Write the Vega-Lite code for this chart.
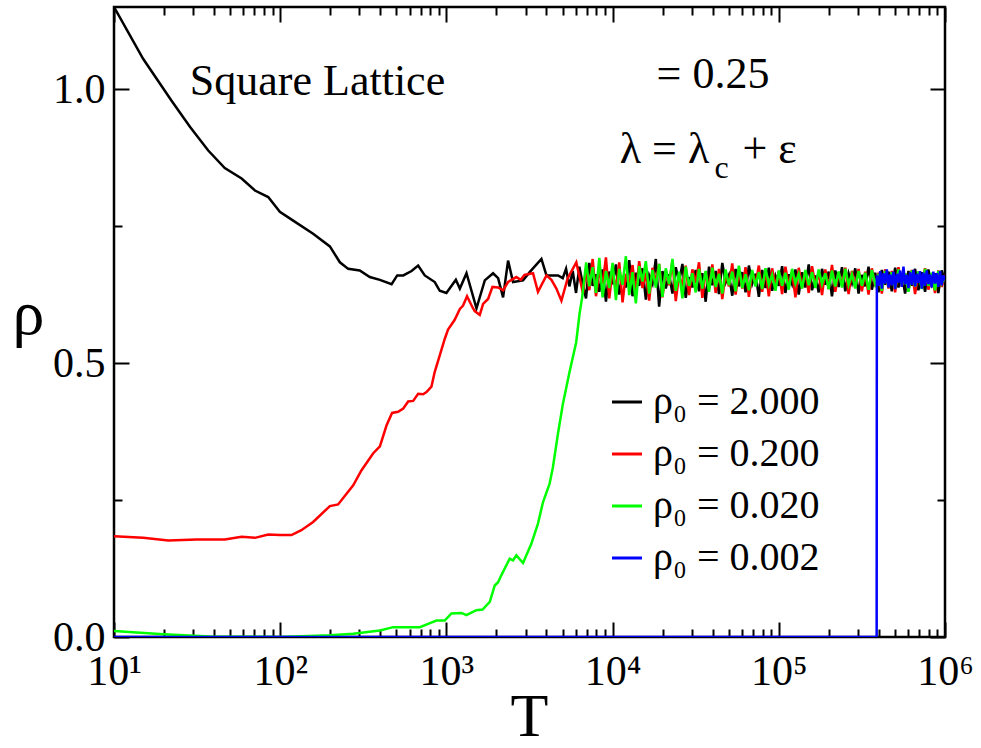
{
  "$schema": "https://vega.github.io/schema/vega-lite/v6.json",
  "width": 831,
  "height": 630,
  "autosize": {"type": "none"},
  "padding": {"left": 114, "top": 7, "right": 36, "bottom": 111},
  "background": "white",
  "config": {
    "font": "Liberation Serif",
    "view": {"stroke": "black", "strokeWidth": 2.5},
    "axis": {
      "domain": false, "grid": false,
      "tickColor": "black", "tickWidth": 2,
      "labelColor": "black", "labelFont": "Liberation Serif", "labelFontSize": 42,
      "titleFont": "Liberation Serif", "titleFontWeight": "normal", "titleColor": "black",
      "labelOverlap": false, "labelFlush": false, "labelBound": false
    }
  },
  "datasets": {
    "rho": [
      {"T":10,"a":1.15,"b":0.184,"c":0.011,"d":0},
      {"T":15,"a":1.055,"b":0.181},
      {"T":19.8,"c":0.005},
      {"T":21.2,"b":0.176},
      {"T":22.2,"a":0.979},
      {"T":28.7,"a":0.931},
      {"T":31.4,"b":0.178},
      {"T":36.9,"a":0.888},
      {"T":37.8,"c":0.001},
      {"T":46.4,"a":0.856,"b":0.178},
      {"T":58.6,"a":0.837,"b":0.183},
      {"T":70.5,"a":0.815,"b":0.181},
      {"T":84.7,"a":0.803,"b":0.187},
      {"T":99.5,"a":0.776,"b":0.186},
      {"T":100,"c":0},
      {"T":117,"b":0.186},
      {"T":119.7,"a":0.76},
      {"T":134,"b":0.195},
      {"T":157.8,"a":0.736,"b":0.21},
      {"T":199,"a":0.713,"b":0.239,"c":0.003},
      {"T":223,"b":0.242},
      {"T":228.6,"a":0.684},
      {"T":256.5,"a":0.672},
      {"T":275,"b":0.277,"c":0.006},
      {"T":301,"a":0.669},
      {"T":308,"b":0.304},
      {"T":346,"a":0.657},
      {"T":362,"b":0.335},
      {"T":398,"a":0.652,"b":0.348,"c":0.012},
      {"T":436,"b":0.386},
      {"T":468,"a":0.644},
      {"T":471,"b":0.409},
      {"T":479,"c":0.018},
      {"T":506,"a":0.66},
      {"T":512,"b":0.411},
      {"T":550,"a":0.66,"b":0.417},
      {"T":589,"b":0.43},
      {"T":617,"a":0.668},
      {"T":631,"b":0.431},
      {"T":676,"a":0.678,"b":0.444},
      {"T":692,"c":0.018},
      {"T":724,"b":0.443},
      {"T":741,"a":0.66},
      {"T":759,"b":0.447},
      {"T":776,"c":0.024},
      {"T":813,"b":0.457},
      {"T":851,"a":0.648,"b":0.484},
      {"T":871,"c":0.03},
      {"T":912,"a":0.632,"b":0.514},
      {"T":977,"b":0.544,"c":0.03},
      {"T":1000,"a":0.628},
      {"T":1023,"b":0.561},
      {"T":1072,"c":0.043},
      {"T":1122,"b":0.579},
      {"T":1140,"a":0.652},
      {"T":1205,"a":0.636,"b":0.599},
      {"T":1233,"c":0.044},
      {"T":1260,"b":0.605},
      {"T":1320,"c":0.04},
      {"T":1321,"a":0.664},
      {"T":1331,"b":0.622},
      {"T":1434,"b":0.602},
      {"T":1481,"b":0.595},
      {"T":1514,"c":0.049},
      {"T":1517,"a":0.6},
      {"T":1588,"b":0.588},
      {"T":1650,"c":0.05},
      {"T":1663,"b":0.608},
      {"T":1702,"a":0.651},
      {"T":1782,"b":0.617},
      {"T":1824,"c":0.064},
      {"T":1893,"b":0.639},
      {"T":1909,"a":0.664},
      {"T":1954,"c":0.094},
      {"T":2047,"a":0.655,"b":0.638,"c":0.1},
      {"T":2143,"c":0.113},
      {"T":2193,"a":0.62,"b":0.633},
      {"T":2350,"a":0.687,"b":0.648},
      {"T":2404,"c":0.143},
      {"T":2518,"a":0.648,"c":0.14},
      {"T":2636,"b":0.657,"c":0.149},
      {"T":2800,"b":0.652},
      {"T":2891,"a":0.651,"c":0.135},
      {"T":2950,"b":0.661},
      {"T":3170,"a":0.666},
      {"T":3243,"c":0.17},
      {"T":3319,"b":0.664},
      {"T":3556,"b":0.63,"c":0.207},
      {"T":3730,"a":0.69},
      {"T":3811,"c":0.246},
      {"T":4000,"a":0.66,"b":0.66},
      {"T":4178,"c":0.28},
      {"T":4285,"b":0.652},
      {"T":4375,"c":0.31},
      {"T":4590,"b":0.636},
      {"T":4690,"c":0.371},
      {"T":4700,"a":0.66},
      {"T":4920,"b":0.614},
      {"T":5012,"a":0.655},
      {"T":5025,"c":0.426},
      {"T":5248,"a":0.672},
      {"T":5370,"b":0.655},
      {"T":5495,"a":0.64},
      {"T":5510,"c":0.484},
      {"T":5754,"a":0.668},
      {"T":6026,"a":0.628},
      {"T":6040,"c":0.538},
      {"T":6050,"b":0.684},
      {"T":6310,"a":0.676},
      {"T":6325,"c":0.59},
      {"T":6560,"c":0.62},
      {"T":6607,"a":0.645},
      {"T":6640,"b":0.627},
      {"T":6918,"a":0.618,"b":0.672},
      {"T":6935,"c":0.684},
      {"T":7244,"a":0.683,"b":0.633,"c":0.64},
      {"T":7586,"a":0.641,"b":0.69,"c":0.675},
      {"T":7943,"a":0.662,"b":0.622,"c":0.628},
      {"T":8318,"a":0.63,"b":0.668,"c":0.692},
      {"T":8710,"a":0.671,"b":0.645,"c":0.62},
      {"T":9120,"a":0.612,"b":0.693,"c":0.668},
      {"T":9550,"a":0.667,"b":0.618,"c":0.637},
      {"T":10000,"a":0.644,"b":0.671,"c":0.683},
      {"T":10470,"a":0.68,"b":0.632,"c":0.615},
      {"T":10960,"a":0.625,"b":0.684,"c":0.672},
      {"T":11480,"a":0.659,"b":0.611,"c":0.643},
      {"T":12020,"a":0.638,"b":0.663,"c":0.695},
      {"T":12590,"a":0.688,"b":0.64,"c":0.624},
      {"T":13180,"a":0.622,"b":0.679,"c":0.666},
      {"T":13800,"a":0.665,"b":0.626,"c":0.609},
      {"T":14450,"a":0.641,"b":0.686,"c":0.677},
      {"T":15140,"a":0.673,"b":0.637,"c":0.649},
      {"T":15850,"a":0.616,"b":0.665,"c":0.686},
      {"T":16600,"a":0.66,"b":0.614,"c":0.627},
      {"T":17380,"a":0.645,"b":0.674,"c":0.67},
      {"T":18200,"a":0.69,"b":0.648,"c":0.638},
      {"T":19050,"a":0.603,"b":0.681,"c":0.681},
      {"T":19950,"a":0.668,"b":0.62,"c":0.621},
      {"T":20890,"a":0.636,"b":0.669,"c":0.673},
      {"T":21880,"a":0.662,"b":0.642,"c":0.644},
      {"T":22910,"a":0.627,"b":0.687,"c":0.69},
      {"T":23990,"a":0.675,"b":0.613,"c":0.632},
      {"T":25120,"a":0.648,"b":0.662,"c":0.667},
      {"T":26300,"a":0.681,"b":0.639,"c":0.618},
      {"T":27540,"a":0.619,"b":0.678,"c":0.676},
      {"T":28840,"a":0.657,"b":0.624,"c":0.641},
      {"T":30200,"a":0.638,"b":0.671,"c":0.664},
      {"T":31620,"a":0.67,"b":0.646,"c":0.629},
      {"T":33110,"a":0.631,"b":0.684,"c":0.672},
      {"T":34670,"a":0.664,"b":0.619,"c":0.636},
      {"T":36310,"a":0.612,"b":0.667,"c":0.668},
      {"T":38020,"a":0.676,"b":0.634,"c":0.63},
      {"T":39810,"a":0.642,"b":0.68,"c":0.674},
      {"T":41690,"a":0.668,"b":0.628,"c":0.639},
      {"T":43650,"a":0.626,"b":0.672,"c":0.663},
      {"T":45710,"a":0.683,"b":0.617,"c":0.627},
      {"T":47860,"a":0.647,"b":0.664,"c":0.671},
      {"T":50120,"a":0.661,"b":0.64,"c":0.642},
      {"T":52480,"a":0.623,"b":0.682,"c":0.667},
      {"T":54950,"a":0.672,"b":0.625,"c":0.631},
      {"T":57540,"a":0.64,"b":0.669,"c":0.678},
      {"T":60260,"a":0.666,"b":0.636,"c":0.637},
      {"T":63100,"a":0.629,"b":0.675,"c":0.662},
      {"T":66070,"a":0.678,"b":0.621,"c":0.633},
      {"T":69180,"a":0.645,"b":0.666,"c":0.67},
      {"T":72440,"a":0.663,"b":0.644,"c":0.64},
      {"T":75860,"a":0.621,"b":0.678,"c":0.666},
      {"T":79430,"a":0.67,"b":0.63,"c":0.635},
      {"T":83180,"a":0.637,"b":0.67,"c":0.673},
      {"T":87100,"a":0.674,"b":0.622,"c":0.643},
      {"T":91200,"a":0.632,"b":0.673,"c":0.661},
      {"T":95500,"a":0.659,"b":0.639,"c":0.632},
      {"T":100000,"a":0.641,"b":0.668,"c":0.669},
      {"T":104700,"a":0.677,"b":0.626,"c":0.641},
      {"T":109600,"a":0.628,"b":0.676,"c":0.665},
      {"T":114800,"a":0.662,"b":0.641,"c":0.634},
      {"T":120200,"a":0.644,"b":0.667,"c":0.672},
      {"T":125900,"a":0.671,"b":0.62,"c":0.645},
      {"T":131800,"a":0.625,"b":0.674,"c":0.663},
      {"T":138000,"a":0.666,"b":0.637,"c":0.636},
      {"T":144500,"a":0.638,"b":0.669,"c":0.67},
      {"T":151400,"a":0.68,"b":0.628,"c":0.642},
      {"T":158500,"a":0.633,"b":0.677,"c":0.666},
      {"T":166000,"a":0.66,"b":0.642,"c":0.637},
      {"T":173800,"a":0.629,"b":0.665,"c":0.671},
      {"T":182000,"a":0.672,"b":0.624,"c":0.644},
      {"T":190500,"a":0.643,"b":0.671,"c":0.664},
      {"T":199500,"a":0.667,"b":0.635,"c":0.635},
      {"T":208900,"a":0.622,"b":0.679,"c":0.669},
      {"T":218800,"a":0.669,"b":0.63,"c":0.64},
      {"T":229100,"a":0.639,"b":0.666,"c":0.667},
      {"T":239900,"a":0.675,"b":0.643,"c":0.638},
      {"T":251200,"a":0.631,"b":0.674,"c":0.672},
      {"T":263000,"a":0.664,"b":0.626,"c":0.643},
      {"T":275400,"a":0.646,"b":0.668,"c":0.662},
      {"T":288400,"a":0.673,"b":0.638,"c":0.636},
      {"T":302000,"a":0.627,"b":0.672,"c":0.668},
      {"T":316200,"a":0.661,"b":0.631,"c":0.641},
      {"T":331100,"a":0.64,"b":0.667,"c":0.665},
      {"T":346700,"a":0.676,"b":0.625,"c":0.634},
      {"T":363100,"a":0.634,"b":0.673,"c":0.67},
      {"T":380200,"a":0.665,"b":0.64,"c":0.644},
      {"T":388000,"d":0},
      {"T":389000,"d":0.66},
      {"T":398100,"a":0.629,"b":0.665,"c":0.663,"d":0.641},
      {"T":407400,"d":0.668},
      {"T":416900,"a":0.67,"b":0.627,"c":0.632,"d":0.636},
      {"T":426600,"d":0.664},
      {"T":436500,"a":0.643,"b":0.671,"c":0.668,"d":0.645},
      {"T":446700,"d":0.671},
      {"T":457100,"a":0.667,"b":0.636,"c":0.639,"d":0.638},
      {"T":467700,"d":0.662},
      {"T":478600,"a":0.631,"b":0.668,"c":0.666,"d":0.642},
      {"T":489800,"d":0.667},
      {"T":501200,"a":0.674,"b":0.629,"c":0.636,"d":0.635},
      {"T":512900,"d":0.663},
      {"T":524800,"a":0.638,"b":0.675,"c":0.671,"d":0.647},
      {"T":537000,"d":0.669},
      {"T":549500,"a":0.663,"b":0.64,"c":0.642,"d":0.639},
      {"T":562300,"d":0.676},
      {"T":575400,"a":0.627,"b":0.664,"c":0.664,"d":0.644},
      {"T":588800,"d":0.661},
      {"T":602600,"a":0.668,"b":0.632,"c":0.63,"d":0.637},
      {"T":616600,"d":0.666},
      {"T":631000,"a":0.641,"b":0.67,"c":0.669,"d":0.643},
      {"T":645700,"d":0.67},
      {"T":660700,"a":0.672,"b":0.626,"c":0.64,"d":0.64},
      {"T":676100,"d":0.663},
      {"T":691800,"a":0.633,"b":0.667,"c":0.667,"d":0.646},
      {"T":707900,"d":0.668},
      {"T":724400,"a":0.666,"b":0.642,"c":0.635,"d":0.636},
      {"T":741300,"d":0.665},
      {"T":758600,"a":0.63,"b":0.673,"c":0.672,"d":0.641},
      {"T":776200,"d":0.669},
      {"T":794300,"a":0.671,"b":0.634,"c":0.641,"d":0.644},
      {"T":812800,"d":0.662},
      {"T":831800,"a":0.644,"b":0.662,"c":0.665,"d":0.638},
      {"T":851100,"d":0.667},
      {"T":871000,"a":0.664,"b":0.628,"c":0.633,"d":0.645},
      {"T":891300,"d":0.664},
      {"T":912000,"a":0.628,"b":0.669,"c":0.668,"d":0.639},
      {"T":933300,"d":0.668},
      {"T":955000,"a":0.669,"b":0.639,"c":0.645,"d":0.642},
      {"T":977200,"d":0.66},
      {"T":1000000,"a":0.65,"b":0.661,"c":0.657,"d":0.651}
    ],
    "one": [{}]
  },
  "resolve": {"axis": {"x": "independent", "y": "independent"}},
  "layer": [
    {
      "data": {"name": "rho"},
      "transform": [
        {"fold": ["a", "b", "c", "d"], "as": ["series", "rho"]},
        {"filter": "isValid(datum.rho)"}
      ],
      "mark": {"type": "line", "strokeWidth": 2.5, "clip": true},
      "encoding": {
        "x": {
          "field": "T", "type": "quantitative",
          "scale": {"type": "log", "domain": [10, 1000000], "nice": false},
          "axis": {
            "orient": "bottom",
            "values": [10,20,30,40,50,60,70,80,90,100,200,300,400,500,600,700,800,900,1000,2000,3000,4000,5000,6000,7000,8000,9000,10000,20000,30000,40000,50000,60000,70000,80000,90000,100000,200000,300000,400000,500000,600000,700000,800000,900000,1000000],
            "labelExpr": "abs(log(datum.value)/LN10 - round(log(datum.value)/LN10)) < 0.001 ? '10' + ['⁰','¹','²','³','⁴','⁵','⁶'][round(log(datum.value)/LN10)] : ''",
            "tickSize": {"condition": {"test": "abs(log(datum.value)/LN10 - round(log(datum.value)/LN10)) < 0.001", "value": -15}, "value": -8},
            "labelPadding": 29,
            "title": "T", "titleFontSize": 62, "titleBaseline": "bottom",
            "titleX": 415, "titleY": 111, "titleAlign": "center"
          }
        },
        "y": {
          "field": "rho", "type": "quantitative",
          "scale": {"domain": [0, 1.15], "nice": false, "zero": false},
          "axis": {
            "orient": "left",
            "values": [0, 0.25, 0.5, 0.75, 1],
            "labelExpr": "datum.value == 0.25 || datum.value == 0.75 ? '' : format(datum.value, '.1f')",
            "tickSize": {"condition": {"test": "datum.value == 0.25 || datum.value == 0.75", "value": -8}, "value": -15},
            "labelPadding": 24,
            "title": "ρ", "titleFontSize": 64, "titleAngle": 0, "titleBaseline": "alphabetic",
            "titleAlign": "center", "titleX": -86, "titleY": 326
          }
        },
        "color": {
          "field": "series", "type": "nominal",
          "scale": {"domain": ["a", "b", "c", "d"], "range": ["#000000", "#ff0000", "#00ff00", "#0000ff"]},
          "legend": {
            "orient": "none", "legendX": 493, "legendY": 375,
            "title": null, "padding": 0,
            "symbolType": "stroke", "symbolSize": 900, "symbolStrokeWidth": 3,
            "labelFont": "Liberation Serif", "labelFontSize": 40, "labelColor": "black",
            "labelOffset": 6, "rowPadding": 12, "labelLimit": 0,
            "labelExpr": "datum.value == 'a' ? 'ρ₀ = 2.000' : datum.value == 'b' ? 'ρ₀ = 0.200' : datum.value == 'c' ? 'ρ₀ = 0.020' : 'ρ₀ = 0.002'"
          }
        }
      }
    },
    {
      "data": {"name": "one"},
      "mark": {"type": "text", "align": "left", "baseline": "alphabetic", "fontSize": 44, "font": "Liberation Serif", "color": "black"},
      "encoding": {
        "x": {
          "datum": 28.6, "type": "quantitative",
          "scale": {"type": "log", "domain": [10, 1000000], "nice": false},
          "axis": {
            "orient": "top",
            "values": [10,20,30,40,50,60,70,80,90,100,200,300,400,500,600,700,800,900,1000,2000,3000,4000,5000,6000,7000,8000,9000,10000,20000,30000,40000,50000,60000,70000,80000,90000,100000,200000,300000,400000,500000,600000,700000,800000,900000,1000000],
            "labels": false, "title": null,
            "tickSize": {"condition": {"test": "abs(log(datum.value)/LN10 - round(log(datum.value)/LN10)) < 0.001", "value": -15}, "value": -8}
          }
        },
        "y": {
          "datum": 0.9885, "type": "quantitative",
          "scale": {"domain": [0, 1.15], "nice": false, "zero": false},
          "axis": {
            "orient": "right",
            "values": [0, 0.25, 0.5, 0.75, 1],
            "labels": false, "title": null,
            "tickSize": {"condition": {"test": "datum.value == 0.25 || datum.value == 0.75", "value": -8}, "value": -15}
          }
        },
        "text": {"value": "Square Lattice"}
      }
    },
    {
      "data": {"name": "one"},
      "mark": {"type": "text", "align": "left", "baseline": "alphabetic", "fontSize": 44, "font": "Liberation Serif", "color": "black"},
      "encoding": {
        "x": {"datum": 18400, "type": "quantitative", "scale": {"type": "log", "domain": [10, 1000000], "nice": false}, "axis": null},
        "y": {"datum": 1.003, "type": "quantitative", "scale": {"domain": [0, 1.15], "nice": false, "zero": false}, "axis": null},
        "text": {"value": "= 0.25"}
      }
    },
    {
      "data": {"name": "one"},
      "mark": {"type": "text", "align": "left", "baseline": "alphabetic", "fontSize": 44, "font": "Liberation Serif", "color": "black"},
      "encoding": {
        "x": {"datum": 11040, "type": "quantitative", "scale": {"type": "log", "domain": [10, 1000000], "nice": false}, "axis": null},
        "y": {"datum": 0.866, "type": "quantitative", "scale": {"domain": [0, 1.15], "nice": false, "zero": false}, "axis": null},
        "text": {"value": "λ = λ"}
      }
    },
    {
      "data": {"name": "one"},
      "mark": {"type": "text", "align": "left", "baseline": "alphabetic", "fontSize": 32, "font": "Liberation Serif", "color": "black"},
      "encoding": {
        "x": {"datum": 41100, "type": "quantitative", "scale": {"type": "log", "domain": [10, 1000000], "nice": false}, "axis": null},
        "y": {"datum": 0.837, "type": "quantitative", "scale": {"domain": [0, 1.15], "nice": false, "zero": false}, "axis": null},
        "text": {"value": "c"}
      }
    },
    {
      "data": {"name": "one"},
      "mark": {"type": "text", "align": "left", "baseline": "alphabetic", "fontSize": 44, "font": "Liberation Serif", "color": "black"},
      "encoding": {
        "x": {"datum": 60500, "type": "quantitative", "scale": {"type": "log", "domain": [10, 1000000], "nice": false}, "axis": null},
        "y": {"datum": 0.866, "type": "quantitative", "scale": {"domain": [0, 1.15], "nice": false, "zero": false}, "axis": null},
        "text": {"value": "+ ε"}
      }
    }
  ]
}
